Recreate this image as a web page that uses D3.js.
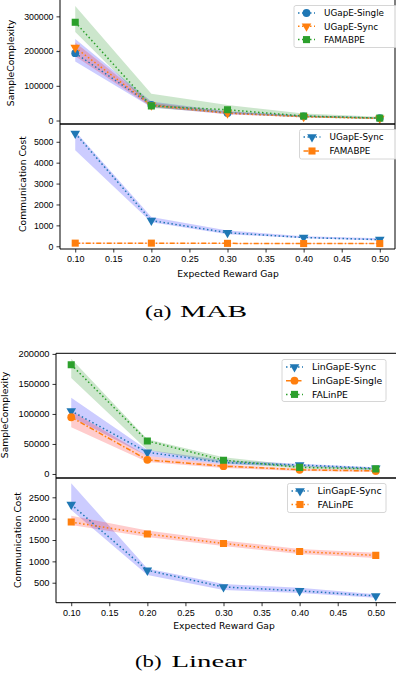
<!DOCTYPE html>
<html>
<head>
<meta charset="utf-8">
<script src="https://cdn.jsdelivr.net/npm/d3@7"></script>
<style>
  body { margin: 0; background: #fff; }
  svg { display: block; font-family: "DejaVu Sans", sans-serif; }
  .tick text { fill: #000; }
  .tick line { stroke: #000; stroke-width: 0.8; }
  .domain { display: none; }
  .axis-label { font-size: 9.2px; fill: #000; }
  .caption { font-family: "Liberation Serif", serif; font-size: 17.5px; fill: #000; }
</style>
</head>
<body>
<div id="chart"></div>
<script>
// x values shared by every subplot
const gaps = [0.1, 0.2, 0.3, 0.4, 0.5];

// (a) MAB - sample complexity
const mabSingle   = [194000, 45000, 22000, 12000, 7000];
const mabSingleLo = [170000, 38000, 18000, 10000, 5000];
const mabSingleHi = [235000, 55000, 27000, 15000, 9000];
const mabSync     = [210000, 44000, 21000, 11000, 6000];
const mabSyncLo   = [185000, 39000, 18000, 9000, 5000];
const mabSyncHi   = [225000, 51000, 25000, 14000, 8000];
const mabFa       = [283000, 42000, 31000, 13000, 7000];
const mabFaLo     = [255000, 36000, 22000, 9000, 4000];
const mabFaHi     = [330000, 77000, 45000, 20000, 11000];

// (a) MAB - communication cost
const mabCommSync   = [5400, 1230, 650, 420, 320];
const mabCommSyncLo = [4600, 1150, 580, 380, 280];
const mabCommSyncHi = [5500, 1400, 760, 480, 380];
const mabCommFa     = [150, 150, 140, 130, 130];
const mabCommFaLo   = [130, 130, 120, 110, 110];
const mabCommFaHi   = [170, 170, 160, 150, 150];

// (b) Linear - sample complexity
const linSync     = [105000, 36000, 19000, 15000, 9500];
const linSyncLo   = [95000, 30000, 16000, 12000, 7000];
const linSyncHi   = [127000, 40000, 23000, 17000, 11000];
const linSingle   = [94500, 23500, 13000, 7000, 5000];
const linSingleLo = [78000, 20000, 10000, 5000, 3500];
const linSingleHi = [105000, 30000, 16000, 9000, 6500];
const linFa       = [182000, 55000, 23000, 11000, 8500];
const linFaLo     = [160000, 40000, 18000, 9000, 6000];
const linFaHi     = [192000, 58000, 28000, 14000, 10000];

// (b) Linear - communication cost
const linCommSync   = [2330, 790, 400, 310, 190];
const linCommSyncLo = [2200, 680, 330, 260, 150];
const linCommSyncHi = [2830, 830, 470, 380, 230];
const linCommFa     = [1920, 1640, 1420, 1230, 1140];
const linCommFaLo   = [1850, 1570, 1360, 1170, 1080];
const linCommFaHi   = [2070, 1720, 1490, 1290, 1200];

const xTicks = [0.10, 0.15, 0.20, 0.25, 0.30, 0.35, 0.40, 0.45, 0.50];

const C = { blue: "#1f77b4", orange: "#ff7f0e", green: "#2ca02c" };
const BAND = { blue: "rgba(0,0,255,0.2)", red: "rgba(255,0,0,0.2)", green: "rgba(0,128,0,0.2)" };
const DOT = "1.5,2.5";
const DASHDOT = "5,2,1.5,2";

const W = 396, H = 682;
const svg = d3.select("#chart").append("svg")
  .attr("width", W).attr("height", H);

function symbolFor(name) {
  if (name === "circle") return d3.symbolCircle;
  if (name === "tri") return d3.symbolTriangle;
  return d3.symbolSquare;
}
function markerPath(name) {
  const size = name === "circle" ? 48 : name === "tri" ? 40 : 50;
  return d3.symbol().type(symbolFor(name)).size(size)();
}
function markerTransform(name, x, y) {
  // matplotlib "v" points down
  return name === "tri" ? `translate(${x},${y}) rotate(180)` : `translate(${x},${y})`;
}

function subplot(opt) {
  const { x, y0, y1, yDomain, yTicks, series, legend, showX, frameRight, rightSpine, fs } = opt;
  const y = d3.scaleLinear().domain(yDomain).range([y1, y0]);
  const g = svg.append("g");
  const clipId = "clip" + Math.round(y0 + 10);
  svg.append("clipPath").attr("id", clipId)
    .append("rect").attr("x", x.range()[0]).attr("y", y0)
    .attr("width", frameRight - x.range()[0]).attr("height", y1 - y0);
  const plot = g.append("g").attr("clip-path", `url(#${clipId})`);

  series.forEach(s => {
    const area = d3.area()
      .x((d, i) => x(gaps[i]))
      .y0((d, i) => y(s.lo[i]))
      .y1((d, i) => y(s.hi[i]));
    plot.append("path").attr("d", area(s.vals)).attr("fill", s.band).attr("stroke", "none");
  });
  series.forEach(s => {
    const line = d3.line().x((d, i) => x(gaps[i])).y(d => y(d));
    plot.append("path").attr("d", line(s.vals))
      .attr("fill", "none").attr("stroke", s.color).attr("stroke-width", 1.5)
      .attr("stroke-dasharray", s.dash);
    plot.selectAll(null).data(s.vals).enter().append("path")
      .attr("d", markerPath(s.marker))
      .attr("transform", (d, i) => markerTransform(s.marker, x(gaps[i]), y(d)))
      .attr("fill", s.color);
  });

  // frame
  const xl = x.range()[0];
  g.append("line").attr("x1", xl).attr("x2", xl).attr("y1", y0).attr("y2", y1)
    .attr("stroke", "#000").attr("stroke-width", 1);
  g.append("line").attr("x1", xl).attr("x2", frameRight).attr("y1", y0).attr("y2", y0)
    .attr("stroke", "#000").attr("stroke-width", 1);
  g.append("line").attr("x1", xl).attr("x2", frameRight).attr("y1", y1).attr("y2", y1)
    .attr("stroke", "#000").attr("stroke-width", 1);
  if (rightSpine) {
    g.append("line").attr("x1", frameRight).attr("x2", frameRight).attr("y1", y0).attr("y2", y1)
      .attr("stroke", "#000").attr("stroke-width", 1);
  }

  g.append("g").attr("transform", `translate(${xl},0)`)
    .call(d3.axisLeft(y).tickValues(yTicks).tickSize(3.5).tickPadding(3).tickFormat(d3.format("d")))
    .selectAll("text").style("font-size", fs + "px");

  if (showX) {
    g.append("g").attr("transform", `translate(0,${y1})`)
      .call(d3.axisBottom(x).tickValues(xTicks).tickSize(3.5).tickPadding(3).tickFormat(d3.format(".2f")))
      .selectAll("text").style("font-size", "9px");
  }

  // legend
  const L = legend;
  g.append("rect").attr("x", L.x).attr("y", L.y).attr("width", L.w).attr("height", L.h)
    .attr("rx", 2).attr("fill", "#fff").attr("fill-opacity", 0.8)
    .attr("stroke", "#ccc").attr("stroke-width", 0.8);
  series.forEach((s, i) => {
    const ly = L.y + 7.5 + i * L.step;
    g.append("line").attr("x1", L.x + 4).attr("x2", L.x + 21).attr("y1", ly).attr("y2", ly)
      .attr("stroke", s.color).attr("stroke-width", 1.5).attr("stroke-dasharray", s.dash);
    g.append("path").attr("d", markerPath(s.marker))
      .attr("transform", markerTransform(s.marker, L.x + 12.5, ly)).attr("fill", s.color);
    g.append("text").attr("x", L.x + 30).attr("y", ly + 3.3)
      .style("font-size", fs + "px").attr("fill", "#000").text(s.name);
  });
  return y;
}

function caption(label, lx, lw, name, nx, nw, yb) {
  svg.append("text").attr("class", "caption").attr("x", lx).attr("y", yb)
    .attr("textLength", lw).attr("lengthAdjust", "spacingAndGlyphs").text(label);
  svg.append("text").attr("class", "caption").attr("x", nx).attr("y", yb)
    .attr("textLength", nw).attr("lengthAdjust", "spacingAndGlyphs").text(name);
}

// ---------- (a) MAB ----------
const xa = d3.scaleLinear().domain([0.08, 0.52]).range([60, 395]);
subplot({
  x: xa, y0: -1, y1: 124, yDomain: [-10000, 350000], fs: 8.8,
  yTicks: [0, 100000, 200000, 300000], showX: false, frameRight: 395, rightSpine: true,
  legend: { x: 294, y: 5.5, w: 104, h: 42, step: 13.3 },
  series: [
    { name: "UGapE-Single", vals: mabSingle, lo: mabSingleLo, hi: mabSingleHi, color: C.blue, band: BAND.blue, marker: "circle", dash: DOT },
    { name: "UGapE-Sync", vals: mabSync, lo: mabSyncLo, hi: mabSyncHi, color: C.orange, band: BAND.red, marker: "tri", dash: DOT },
    { name: "FAMABPE", vals: mabFa, lo: mabFaLo, hi: mabFaHi, color: C.green, band: BAND.green, marker: "square", dash: DOT }
  ]
});
subplot({
  x: xa, y0: 124, y1: 249, yDomain: [-130, 5850], fs: 8.8,
  yTicks: [0, 1000, 2000, 3000, 4000, 5000], showX: true, frameRight: 395, rightSpine: true,
  legend: { x: 299.5, y: 129.5, w: 100, h: 29.5, step: 14 },
  series: [
    { name: "UGapE-Sync", vals: mabCommSync, lo: mabCommSyncLo, hi: mabCommSyncHi, color: C.blue, band: BAND.blue, marker: "tri", dash: DOT },
    { name: "FAMABPE", vals: mabCommFa, lo: mabCommFaLo, hi: mabCommFaHi, color: C.orange, band: BAND.red, marker: "square", dash: DASHDOT }
  ]
});

svg.append("text").attr("class", "axis-label").attr("text-anchor", "middle")
  .attr("transform", "translate(14,63) rotate(-90)").text("SampleComplexity");
svg.append("text").attr("class", "axis-label").attr("text-anchor", "middle")
  .attr("transform", "translate(25.5,184) rotate(-90)").text("Communication Cost");
svg.append("text").attr("class", "axis-label").attr("text-anchor", "middle")
  .attr("x", 228).attr("y", 276.5).text("Expected Reward Gap");
caption("(a)", 145, 26.5, "MAB", 180, 67, 317);

// ---------- (b) Linear ----------
const xb = d3.scaleLinear().domain([0.08, 0.52]).range([56, 391]);
subplot({
  x: xb, y0: 353.3, y1: 478, yDomain: [-6700, 201000], fs: 9.3,
  yTicks: [0, 50000, 100000, 150000, 200000], showX: false, frameRight: 397, rightSpine: false,
  legend: { x: 282, y: 359.5, w: 104, h: 42, step: 13.7 },
  series: [
    { name: "LinGapE-Sync", vals: linSync, lo: linSyncLo, hi: linSyncHi, color: C.blue, band: BAND.blue, marker: "tri", dash: DOT },
    { name: "LinGapE-Single", vals: linSingle, lo: linSingleLo, hi: linSingleHi, color: C.orange, band: BAND.red, marker: "circle", dash: DASHDOT },
    { name: "FALinPE", vals: linFa, lo: linFaLo, hi: linFaHi, color: C.green, band: BAND.green, marker: "square", dash: DOT }
  ]
});
subplot({
  x: xb, y0: 478, y1: 602.7, yDomain: [32, 2952], fs: 9.3,
  yTicks: [500, 1000, 1500, 2000, 2500], showX: true, frameRight: 397, rightSpine: false,
  legend: { x: 287.5, y: 483.5, w: 98.5, h: 29, step: 13.5 },
  series: [
    { name: "LinGapE-Sync", vals: linCommSync, lo: linCommSyncLo, hi: linCommSyncHi, color: C.blue, band: BAND.blue, marker: "tri", dash: DOT },
    { name: "FALinPE", vals: linCommFa, lo: linCommFaLo, hi: linCommFaHi, color: C.orange, band: BAND.red, marker: "square", dash: DOT }
  ]
});

svg.append("text").attr("class", "axis-label").attr("text-anchor", "middle")
  .attr("transform", "translate(8,415) rotate(-90)").text("SampleComplexity");
svg.append("text").attr("class", "axis-label").attr("text-anchor", "middle")
  .attr("transform", "translate(20.5,540) rotate(-90)").text("Communication Cost");
svg.append("text").attr("class", "axis-label").attr("text-anchor", "middle")
  .attr("x", 224).attr("y", 629).text("Expected Reward Gap");
caption("(b)", 135, 26.5, "Linear", 171.5, 75, 667);
</script>
</body>
</html>
